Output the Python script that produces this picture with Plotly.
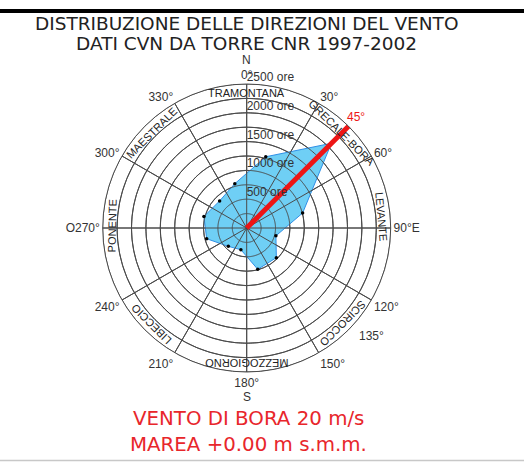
import math
import plotly.graph_objects as go

# ---------------- data ----------------
sector_deg = [15, 45, 75, 105, 135, 165, 195, 225, 255, 285, 315, 345]
hours = [1280, 2080, 1005, 525, 728, 743, 390, 451, 719, 769, 665, 797]

ring_vals = [250, 500, 750, 1000, 1250, 1500, 1750, 2000, 2250, 2500]
ring_labels_r = [500, 1000, 1500, 2000, 2500]
ring_labels = ["500 ore", "1000 ore", "1500 ore", "2000 ore", "2500 ore"]

angle_ticks = [0, 30, 60, 90, 120, 150, 180, 210, 240, 270, 300, 330]
angle_text = ["0°", "30°", "60°", "90°E", "120°", "150°", "180°",
              "210°", "240°", "O270°", "300°", "330°"]

wind_names = ["TRAMONTANA", "GRECALE-BORA", "LEVANTE", "SCIROCCO",
              "MEZZOGIORNO", "LIBECCIO", "PONENTE", "MAESTRALE"]
wind_angles = [0, 45, 85, 135, 180, 225, 271, 315]

bora_dir = 45
bora_len = 2500
rmax = 2500

title_lines = ["DISTRIBUZIONE DELLE DIREZIONI DEL VENTO", "DATI CVN DA TORRE CNR 1997-2002"]
note_lines = ["VENTO DI BORA 20 m/s", "MAREA +0.00 m s.m.m."]

# ---------------- layout geometry ----------------
W, H = 524, 462
CX, CY = 246.7, 228.0   # centre of the rose (px from top-left)
R = 144.0               # outer radius in px
GRID = "#4a4a4a"
LABEL_FONT = "Liberation Sans, Arial, sans-serif"
TITLE_FONT = "DejaVu Sans, sans-serif"


def polar_to_paper(ang_deg, r_px):
    t = math.radians(ang_deg)
    return (CX + r_px * math.sin(t)) / W, (H - CY + r_px * math.cos(t)) / H


fig = go.Figure()

# filled wind distribution polygon
theta_closed = sector_deg + [sector_deg[0]]
r_closed = hours + [hours[0]]
fig.add_trace(go.Scatterpolar(
    r=r_closed, theta=theta_closed, mode="lines", fill="toself",
    fillcolor="#6fcff5", line=dict(color="#2f8fe6", width=1),
    hoverinfo="skip", showlegend=False))

# grid re-drawn above the fill (rings and spokes)
circle_theta = list(range(0, 361, 1))
for rv in ring_vals:
    fig.add_trace(go.Scatterpolar(
        r=[rv] * len(circle_theta), theta=circle_theta, mode="lines",
        line=dict(color=GRID, width=1), hoverinfo="skip", showlegend=False))
for a in angle_ticks:
    fig.add_trace(go.Scatterpolar(
        r=[0, rmax], theta=[a, a], mode="lines",
        line=dict(color=GRID, width=1), hoverinfo="skip", showlegend=False))

# vertex markers
fig.add_trace(go.Scatterpolar(
    r=hours, theta=sector_deg, mode="markers",
    marker=dict(color="black", size=3.5), hoverinfo="skip", showlegend=False))

# bora arrow line
fig.add_trace(go.Scatterpolar(
    r=[0, bora_len], theta=[bora_dir, bora_dir], mode="lines",
    line=dict(color="#ee1515", width=5), cliponaxis=False,
    hoverinfo="skip", showlegend=False))

# radial labels
fig.add_trace(go.Scatterpolar(
    r=ring_labels_r, theta=[0] * len(ring_labels_r), mode="text",
    text=ring_labels, textposition="top right",
    textfont=dict(color="#333333", size=12, family=LABEL_FONT),
    cliponaxis=False, hoverinfo="skip", showlegend=False))

dom_x = [(CX - R) / W, (CX + R) / W]
dom_y = [(H - CY - R) / H, (H - CY + R) / H]

fig.update_layout(
    width=W, height=H, autosize=False,
    margin=dict(l=0, r=0, t=0, b=0),
    paper_bgcolor="white", plot_bgcolor="white",
    showlegend=False,
    polar=dict(
        domain=dict(x=dom_x, y=dom_y),
        bgcolor="white",
        radialaxis=dict(range=[0, rmax], tickvals=ring_vals, showticklabels=False,
                        ticks="", showline=False, gridcolor=GRID, gridwidth=1),
        angularaxis=dict(rotation=90, direction="clockwise", tickmode="array",
                         tickvals=angle_ticks, ticktext=angle_text, ticks="",
                         showline=True, linecolor=GRID, linewidth=1,
                         gridcolor=GRID, gridwidth=1,
                         tickfont=dict(size=12, color="#333333", family=LABEL_FONT)),
    ),
)

annotations = []
# wind names in outer band
band_r = 135.0
for name, ang in zip(wind_names, wind_angles):
    xp, yp = polar_to_paper(ang, band_r)
    ta = ang if ang <= 180 else ang - 360
    annotations.append(dict(text=name, x=xp, y=yp, xref="paper", yref="paper",
                            showarrow=False, textangle=ta, xanchor="center",
                            yanchor="middle",
                            font=dict(size=11, color="#222222", family=LABEL_FONT)))

# red 45° label, extra 135° label, N and S letters outside the circle
for txt, ang, rp, col in [("45°", 44.5, 156, "#ee1515"), ("135°", 131, 165, "#333333"),
                          ("N", 0, 168, "#333333"), ("S", 180, 169, "#333333")]:
    xp, yp = polar_to_paper(ang, rp)
    annotations.append(dict(text=txt, x=xp, y=yp, xref="paper", yref="paper",
                            showarrow=False, xanchor="center", yanchor="middle",
                            font=dict(size=12, color=col, family=LABEL_FONT)))

for txt, ypx in zip(title_lines, [23, 43]):
    annotations.append(dict(text=txt, x=246 / W, y=1 - ypx / H, xref="paper", yref="paper",
                            showarrow=False, xanchor="center", yanchor="middle",
                            font=dict(size=18.5, color="#222222", family=TITLE_FONT)))
for txt, ypx in zip(note_lines, [418, 444]):
    annotations.append(dict(text=txt, x=248 / W, y=1 - ypx / H, xref="paper", yref="paper",
                            showarrow=False, xanchor="center", yanchor="middle",
                            font=dict(size=19.8, color="#e8262b", family=TITLE_FONT)))
fig.update_layout(annotations=annotations)

fig.update_layout(shapes=[
    dict(type="rect", xref="paper", yref="paper", x0=0, x1=1,
         y0=1 - 13 / H, y1=1 - 9 / H, fillcolor="black", line=dict(width=0)),
    dict(type="line", xref="paper", yref="paper", x0=0, x1=1,
         y0=1 - 460.5 / H, y1=1 - 460.5 / H, line=dict(color="#c8c8c8", width=1.5)),
])

fig.write_html("out.html", config={"displayModeBar": False},
               post_script="document.body.style.margin='0px';document.body.style.padding='0px';")
